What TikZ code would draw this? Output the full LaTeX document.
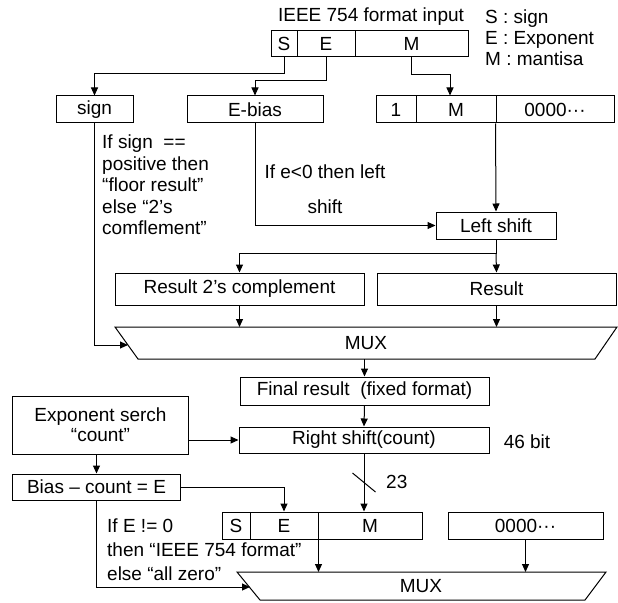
\documentclass[tikz,border=0pt]{standalone}
\usepackage{fontspec}
\setmainfont{Liberation Sans}
\usetikzlibrary{arrows.meta,calc}
\begin{document}
\begin{tikzpicture}[x=1bp,y=-1bp,
  every node/.style={font=\fontsize{19bp}{21bp}\selectfont, inner sep=0pt},
  box/.style={draw, line width=1bp, minimum height=27bp},
  arr/.style={-{Triangle[length=8bp,width=7bp]}, line width=1bp},
  ln/.style={line width=1bp}]
\useasboundingbox (0,0) rectangle (618,603);
% top input
\node (title) at (371,17) {IEEE 754 format input};
\node[anchor=west, align=left] (legend) at (485,38) {S : sign\\E : Exponent\\M : mantisa};
\node[box, minimum width=26bp, minimum height=26bp] (tS) at (284,44) {S};
\node[box, minimum width=58bp, minimum height=26bp] (tE) at (326,44) {E};
\node[box, minimum width=113bp, minimum height=26bp] (tM) at (411.5,44) {M};
% second row
\node[box, minimum width=77bp] (sign) at (94.5,109.5) {sign};
\node[box, minimum width=136bp] (ebias) at (255,109.5) {E-bias};
\node[box, minimum width=40bp] (m1) at (396,109.5) {1};
\node[box, minimum width=80bp] (mM) at (456,109.5) {M};
\node[box, minimum width=118bp] (m0) at (555,109.5) {0000···};
\draw[arr] (tS.south) -- ++(0,16) -| (sign.north);
\draw[arr] (tE.south) -- ++(0,23) -| (ebias.north);
\draw[arr] (tM.south) -- ++(0,17) -| ([xshift=-6bp]mM.north);
% texts
\node[anchor=north west, align=left, font=\fontsize{19bp}{21.5bp}\selectfont] (ifsign) at (102,135)
  {If sign\ \ ==\\positive then\\“floor result”\\else “2's\\comflement”};
\node[align=center, font=\fontsize{19bp}{35bp}\selectfont] (ife) at (325,189.5) {If e<0 then left\\shift};
% left shift
\node[box, minimum width=120bp] (lshift) at (496,225.5) {Left shift};
\draw[arr] (m0.south west) -- (lshift.north);
\draw[arr] (ebias.south) |- (lshift.west);
\node[box, minimum width=249bp, minimum height=32bp] (res2) at (239.5,289) {Result 2's complement};
\node[box, minimum width=239bp, minimum height=32bp] (res) at (496.5,289) {Result};
\draw[ln] (lshift.south) -- ++(0,14) coordinate (j1);
\draw[arr] (j1) -- (res.north);
\draw[arr] (j1) -| (res2.north);
% MUX 1
\coordinate (m1TL) at (115,327);
\coordinate (m1TR) at (617,327);
\coordinate (m1BR) at (595,359);
\coordinate (m1BL) at (138,359);
\draw[ln] (m1TL) -- (m1TR) -- (m1BR) -- (m1BL) -- cycle;
\node (mux1) at (366,343) {MUX};
\coordinate (m1L) at (128,345);
\draw[arr] (res2.south) -- (res2.south |- m1TL);
\draw[arr] (res.south) -- (res.south |- m1TL);
\draw[arr] (sign.south) |- (m1L);
% final / right shift
\node[box, minimum width=249bp, minimum height=28bp] (final) at (364.5,391) {Final result\ \ (fixed format)};
\draw[arr] (final.north |- m1BL) -- (final.north);
\node[box, minimum width=250bp, minimum height=26bp] (rshift) at (364,440) {Right shift(count)};
\draw[arr] (final.south) -- (rshift.north);
\node (bits) at (527,442) {46 bit};
\node[box, minimum width=175bp, minimum height=58bp, align=center, font=\fontsize{19bp}{20bp}\selectfont] (exp) at (100.5,425) {Exponent serch\\“count”};
\draw[arr] (exp.east |- rshift.west) -- (rshift.west);
\node[box, minimum width=167bp, minimum height=26bp] (bias) at (96.5,487) {Bias – count = E};
\draw[arr] (exp.south -| bias.north) -- (bias.north);
% bottom row
\node[box, minimum width=28bp] (bS) at (236,525.5) {S};
\node[box, minimum width=68bp] (bE) at (284,525.5) {E};
\node[box, minimum width=104bp] (bM) at (370,525.5) {M};
\node[box, minimum width=155bp] (z0) at (525.5,525.5) {0000···};
\draw[arr] (bias.east) -| (bE.north);
\draw[arr] (rshift.south) -- (rshift.south |- bM.north) coordinate[pos=0.5] (sl);
\draw[ln] ([shift={(-11.5,-9.5)}]sl) -- ([shift={(11.5,9.5)}]sl);
\node[anchor=west] (n23) at (386,482) {23};
% MUX 2
\coordinate (m2TL) at (237,572);
\coordinate (m2TR) at (606,572);
\coordinate (m2BR) at (585,600);
\coordinate (m2BL) at (260,600);
\draw[ln] (m2TL) -- (m2TR) -- (m2BR) -- (m2BL) -- cycle;
\node (mux2) at (421,586) {MUX};
\coordinate (m2L) at (250,587);
\draw[arr] (bE.south east) -- (bE.south east |- m2TL);
\draw[arr] (z0.south) -- (z0.south |- m2TL);
\draw[arr] (bias.south) |- (m2L);
\node[anchor=north west, align=left, font=\fontsize{19bp}{24bp}\selectfont] (ifE) at (107,519)
  {If E != 0\\then “IEEE 754 format”\\else “all zero”};
\end{tikzpicture}
\end{document}
